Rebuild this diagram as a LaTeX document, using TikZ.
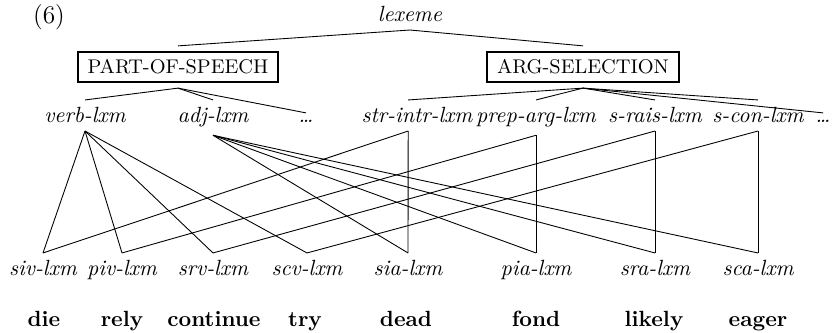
\documentclass[tikz,border=0pt]{standalone}
\usetikzlibrary{positioning}

\begin{document}
\begin{tikzpicture}[
  x=0.4545pt, y=-0.4545pt,
  lab/.style={font=\itshape, anchor=base},
  cat/.style={draw, thick, font=\small, inner xsep=4.5pt, minimum height=13.6pt, outer sep=2.8pt},
  word/.style={font=\bfseries, anchor=base}
]
\useasboundingbox (0,0) rectangle (836,333);

\node[anchor=base, font=\fontsize{11.5}{13}\selectfont] (num) at (49,24) {(6)};
\node[lab] (lex) at (410,22) {lexeme};

\node[cat] (pos) at (178,67) {PART-OF-SPEECH};
\node[cat] (arg) at (583,67) {ARG-SELECTION};

\node[lab] (verb) at (85,123) {verb-lxm};
\node[lab] (adj) at (213,123) {adj-lxm};
\node[lab] (dotsa) at (306,123) {\ldots};
\node[lab] (str) at (417,123) {str-intr-lxm};
\node[lab] (prep) at (536,123) {prep-arg-lxm};
\node[lab] (rais) at (655,123) {s-rais-lxm};
\node[lab] (con) at (758,123) {s-con-lxm};
\node[lab] (dotsb) at (823,123) {\ldots};

\node[lab] (siv) at (43,276) {siv-lxm};
\node[lab] (piv) at (122,276) {piv-lxm};
\node[lab] (srv) at (213,276) {srv-lxm};
\node[lab] (scv) at (307,276) {scv-lxm};
\node[lab] (sia) at (408,276) {sia-lxm};
\node[lab] (pia) at (536,276) {pia-lxm};
\node[lab] (sra) at (655,276) {sra-lxm};
\node[lab] (sca) at (758,276) {sca-lxm};

\node[word] (die) at (44,326) {die};
\node[word] (rely) at (122,326) {rely};
\node[word] (cont) at (214,326) {continue};
\node[word] (try) at (305,326) {try};
\node[word] (dead) at (406,326) {dead};
\node[word] (fond) at (536,326) {fond};
\node[word] (likely) at (654,326) {likely};
\node[word] (eager) at (758,326) {eager};

\draw (lex.south) -- (pos.north);
\draw (lex.south) -- (arg.north);

\draw (pos.south) -- (verb.north);
\draw (pos.south) -- (adj.north);
\draw (pos.south) -- (dotsa.north);
\draw (arg.south) -- ([xshift=-4pt]str.north);
\draw (arg.south) -- (prep.north);
\draw (arg.south) -- (rais.north);
\draw (arg.south) -- (con.north);
\draw (arg.south) -- (dotsb.north);

\draw (verb.south) -- (siv.north);
\draw (verb.south) -- (piv.north);
\draw (verb.south) -- (srv.north);
\draw (verb.south) -- (scv.north);
\draw (adj.south) -- (sia.north);
\draw (adj.south) -- (pia.north);
\draw (adj.south) -- (sra.north);
\draw (adj.south) -- (sca.north);

\draw ([xshift=-4pt]str.south) -- (siv.north);
\draw ([xshift=-4pt]str.south) -- (sia.north);
\draw (prep.south) -- (piv.north);
\draw (prep.south) -- (pia.north);
\draw (rais.south) -- (srv.north);
\draw (rais.south) -- (sra.north);
\draw (con.south) -- (scv.north);
\draw (con.south) -- (sca.north);

\end{tikzpicture}
\end{document}
